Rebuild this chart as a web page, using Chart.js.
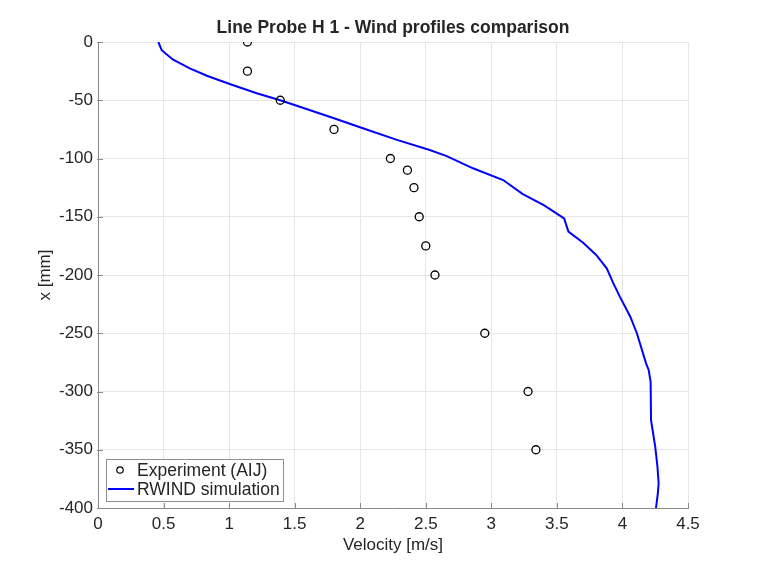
<!DOCTYPE html>
<html>
<head>
<meta charset="utf-8">
<script src="https://cdn.jsdelivr.net/npm/chart.js@4.4.1/dist/chart.umd.min.js"></script>
<style>
  html, body { margin: 0; padding: 0; background: #fff; }
  #wrap { width: 760px; height: 570px; }
</style>
</head>
<body>
<div id="wrap"><canvas id="profileChart" width="760" height="570"></canvas></div>
<script>
// Experiment (AIJ) - velocity [m/s] at each height x [mm]
const expVelocity = [1.14, 1.14, 1.39, 1.80, 2.23, 2.36, 2.41, 2.45, 2.50, 2.57, 2.95, 3.28, 3.34];
const expHeight   = [0, -25, -50, -75, -100, -110, -125, -150, -175, -200, -250, -300, -350];

// RWIND simulation profile
const simVelocity = [0.46, 0.486, 0.57, 0.70, 0.83, 1.01, 1.21, 1.39, 1.59, 1.80, 2.02, 2.28, 2.53, 2.66,
                     2.86, 3.09, 3.24, 3.40, 3.555, 3.588, 3.70, 3.80, 3.88, 3.93, 3.98, 4.06, 4.11,
                     4.18, 4.20, 4.215, 4.218, 4.25, 4.267, 4.276, 4.27, 4.256];
const simHeight   = [0, -7, -15, -22.6, -29, -36.3, -44, -50, -57.5, -65.5, -74, -84, -92.7, -98,
                     -108.4, -118.5, -130.5, -140, -151.4, -162.8, -172.3, -182.8, -194.3, -207, -218.6, -235.8, -250,
                     -275.8, -281.5, -291.6, -324.5, -347.4, -364.6, -378.8, -387.4, -400];

const xTicks = [0, 0.5, 1, 1.5, 2, 2.5, 3, 3.5, 4, 4.5];
const yTicks = [0, -50, -100, -150, -200, -250, -300, -350, -400];

const FONT = "'Liberation Sans', Arial, Helvetica, sans-serif";
const TEXT = '#262626';
const AXIS = '#8a8a8a';

// MATLAB style ticks pointing into the axes
const innerTicks = {
  id: 'innerTicks',
  beforeDatasetsDraw(chart) {
    const {ctx, chartArea: a, scales: {x, y}} = chart;
    ctx.save();
    ctx.strokeStyle = AXIS;
    ctx.lineWidth = 1;
    ctx.beginPath();
    xTicks.forEach(v => {
      const px = Math.round(x.getPixelForValue(v)) + 0.5;
      ctx.moveTo(px, a.bottom);
      ctx.lineTo(px, a.bottom - 5);
    });
    yTicks.forEach(v => {
      const py = Math.round(y.getPixelForValue(v)) + 0.5;
      ctx.moveTo(a.left - 1, py);
      ctx.lineTo(a.left + 5, py);
    });
    ctx.stroke();
    ctx.restore();
  }
};

// legend box in the lower left corner of the axes
const boxLegend = {
  id: 'boxLegend',
  afterDraw(chart) {
    const {ctx, chartArea: a} = chart;
    const left = a.left + 8, top = a.bottom - 49, w = 177, h = 42;
    ctx.save();
    ctx.fillStyle = '#fff';
    ctx.fillRect(left, top, w, h);
    ctx.strokeStyle = '#8f8f8f';
    ctx.lineWidth = 1;
    ctx.strokeRect(left + 0.5, top + 0.5, w, h);

    ctx.font = '17.5px ' + FONT;
    ctx.fillStyle = TEXT;
    ctx.textBaseline = 'middle';
    ctx.textAlign = 'left';
    chart.data.datasets.forEach((ds, i) => {
      const cy = top + 11 + i * 19;
      if (ds.showLine) {
        ctx.strokeStyle = ds.borderColor;
        ctx.lineWidth = 2;
        ctx.beginPath();
        ctx.moveTo(left + 2, cy);
        ctx.lineTo(left + 28, cy);
        ctx.stroke();
      } else {
        ctx.strokeStyle = ds.borderColor;
        ctx.lineWidth = 1.2;
        ctx.beginPath();
        ctx.arc(left + 14, cy, 3.2, 0, Math.PI * 2);
        ctx.stroke();
      }
      ctx.fillStyle = TEXT;
      ctx.fillText(ds.label, left + 31, cy + 1);
    });
    ctx.restore();
  }
};

new Chart(document.getElementById('profileChart').getContext('2d'), {
  type: 'scatter',
  data: {
    datasets: [
      {
        label: 'Experiment (AIJ)',
        data: expVelocity.map((v, i) => ({x: v, y: expHeight[i]})),
        showLine: false,
        borderColor: '#000',
        backgroundColor: 'rgba(0,0,0,0)',
        borderWidth: 1.3,
        pointRadius: 4,
        pointStyle: 'circle'
      },
      {
        label: 'RWIND simulation',
        data: simVelocity.map((v, i) => ({x: v, y: simHeight[i]})),
        showLine: true,
        borderColor: '#0000ff',
        borderWidth: 2,
        pointRadius: 0,
        tension: 0
      }
    ]
  },
  options: {
    responsive: false,
    animation: false,
    devicePixelRatio: 1,
    layout: { padding: { left: 0, right: 72, top: 0, bottom: 0 } },
    plugins: {
      legend: { display: false },
      tooltip: { enabled: false },
      title: {
        display: true,
        fullSize: false,
        text: 'Line Probe H 1 - Wind profiles comparison',
        color: TEXT,
        font: { family: FONT, size: 17.5, weight: 'bold', lineHeight: 1.2 },
        padding: { top: 18, bottom: 3 }
      }
    },
    scales: {
      x: {
        type: 'linear',
        min: 0,
        max: 4.5,
        afterBuildTicks: s => { s.ticks = xTicks.map(v => ({value: v})); },
        afterFit: s => { s.height = 62; },
        ticks: {
          color: TEXT,
          font: { family: FONT, size: 17 },
          padding: 6,
          maxRotation: 0,
          callback: v => String(v)
        },
        grid: { color: '#e6e6e6', drawTicks: false },
        border: { color: AXIS },
        title: {
          display: true,
          text: 'Velocity [m/s]',
          color: TEXT,
          font: { family: FONT, size: 17 },
          padding: { top: 0, bottom: 14 }
        }
      },
      y: {
        type: 'linear',
        min: -400,
        max: 0,
        afterBuildTicks: s => { s.ticks = yTicks.map(v => ({value: v})); },
        afterFit: s => { s.width = 98; },
        ticks: {
          color: TEXT,
          font: { family: FONT, size: 17 },
          padding: 5,
          callback: v => String(v)
        },
        grid: { color: '#e6e6e6', drawTicks: false },
        border: { color: AXIS },
        title: {
          display: true,
          text: 'x [mm]',
          color: TEXT,
          font: { family: FONT, size: 17 },
          padding: { top: 35, bottom: 0 }
        }
      }
    }
  },
  plugins: [innerTicks, boxLegend]
});
</script>
</body>
</html>
